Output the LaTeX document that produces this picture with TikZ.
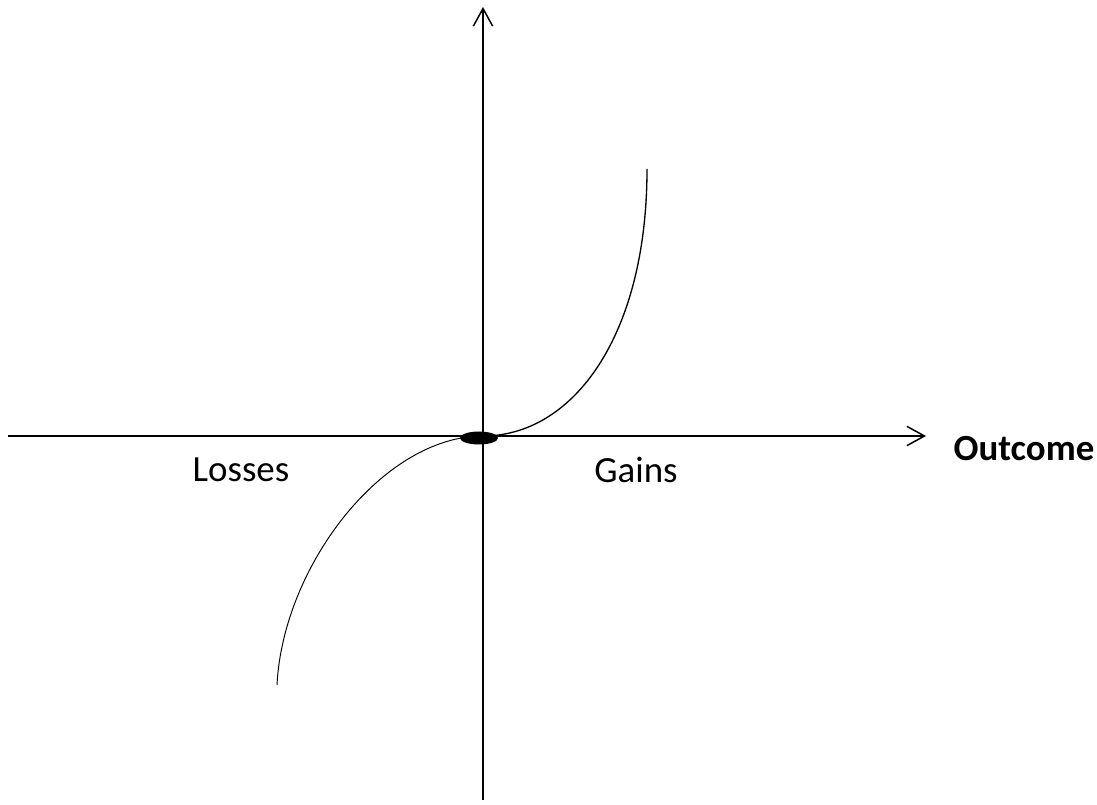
\documentclass[tikz,border=0pt]{standalone}
\usepackage{fontspec}
\setmainfont{Carlito}
\usetikzlibrary{arrows.meta,positioning}

\begin{document}
\begin{tikzpicture}[
  x=0.02cm, y=0.02cm,
  >={Straight Barb[length=10pt,width=11pt]},
  axis/.style={->,line width=0.85pt},
  gaincurve/.style={line width=0.75pt},
  losscurve/.style={line width=0.55pt},
  lbl/.style={font=\fontsize{21}{25}\selectfont},
  ttl/.style={font=\fontsize{21}{25}\selectfont\bfseries}
]
\useasboundingbox (-483,-368) rectangle (614,436);

\coordinate (o)  at (0,0);
\coordinate (xl) at (-475,0);
\coordinate (xr) at (443,0);
\coordinate (yb) at (0,-364);
\coordinate (yt) at (0,429);
\coordinate (gend) at (164,267);
\coordinate (lend) at (-206,-249);

\draw[axis] (xl) -- (xr);
\draw[axis] (yb) -- (yt);

% value curve
\draw[gaincurve] (o) .. controls (90,0) and (164,100) .. (gend);
\draw[losscurve] (o) .. controls (-100,0) and (-200,-130) .. (lend);

\fill (-4,-2) ellipse (19 and 6.5);

\node[lbl] (loss) at (-242,-34) {Losses};
\node[lbl] (gain) at (153,-34) {Gains};
\node[ttl] (out)  at (541,-13) {Outcome};
\end{tikzpicture}
\end{document}
